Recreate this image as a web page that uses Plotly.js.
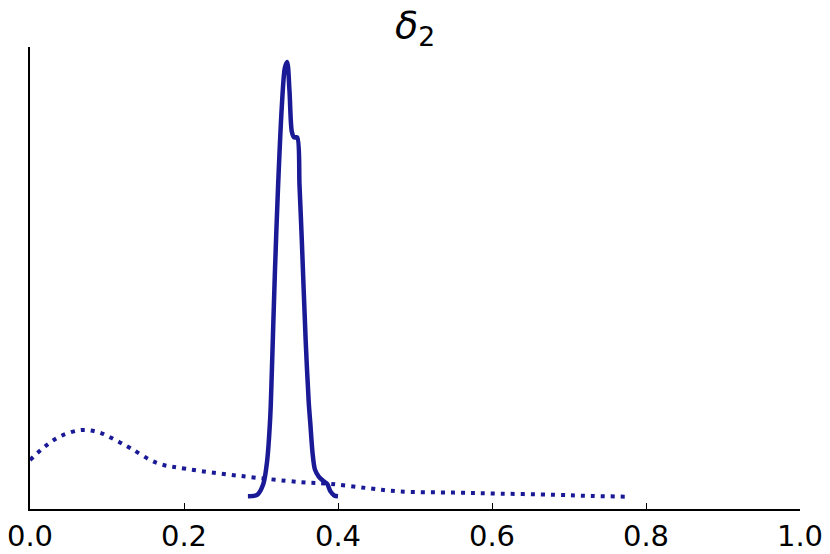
<!DOCTYPE html>
<html>
<head>
<meta charset="utf-8">
<script src="https://cdn.plot.ly/plotly-3.0.1.min.js"></script>
<style>body{margin:0;background:#fff}#chart{width:830px;height:554px}</style>
</head>
<body>
<div id="chart"></div>
<script>
// Solid density (posterior)
const solidX = [0.283, 0.295, 0.303, 0.308, 0.312, 0.314, 0.318, 0.322, 0.327, 0.331, 0.334, 0.337, 0.340, 0.343, 0.347, 0.350, 0.353, 0.358, 0.362, 0.364, 0.367, 0.370, 0.375, 0.381, 0.386, 0.390, 0.395, 0.400];
const solidY = [0.05, 0.15, 0.9, 2.5, 5.5, 8.5, 15.4, 21.2, 26.9, 29.6, 30.0, 28.0, 25.2, 24.8, 24.8, 21.5, 17.7, 10.8, 6.5, 5.1, 3.0, 1.9, 1.4, 1.1, 0.9, 0.4, 0.1, 0.05];
// Dotted density (prior)
const dotX = [0.0, 0.02, 0.04, 0.0675, 0.09, 0.11, 0.13, 0.165, 0.204, 0.273, 0.35, 0.39, 0.44, 0.48, 0.55, 0.61, 0.68, 0.73, 0.775];
const dotY = [2.55, 3.5, 4.2, 4.62, 4.45, 3.95, 3.38, 2.34, 1.93, 1.45, 1.03, 0.9, 0.6, 0.38, 0.3, 0.23, 0.15, 0.07, 0.02];
const xTicks = [0.0, 0.2, 0.4, 0.6, 0.8, 1.0];
const xTickLabels = ["0.0", "0.2", "0.4", "0.6", "0.8", "1.0"];

const color = "rgb(26,26,150)";
const traces = [
  {x: dotX, y: dotY, mode: "lines", line: {color: color, width: 4, dash: "4px,6px", shape: "spline"}, hoverinfo: "skip"},
  {x: solidX, y: solidY, mode: "lines", line: {color: color, width: 4.5, shape: "spline", smoothing: 0.8}, hoverinfo: "skip"}
];
const layout = {
  width: 830, height: 554,
  margin: {l: 30, r: 30, t: 47, b: 45},
  paper_bgcolor: "#fff", plot_bgcolor: "#fff",
  showlegend: false,
  font: {family: "DejaVu Sans", color: "#000"},
  title: {text: "<i>δ</i><sub>2</sub>", font: {size: 38, family: "DejaVu Sans", color: "#000"}, x: 0.5, xanchor: "center", y: 0.955, yref: "container", yanchor: "middle"},
  xaxis: {range: [0, 1], tickvals: xTicks, ticktext: xTickLabels, showgrid: false, zeroline: false,
          showline: true, linecolor: "#000", linewidth: 2, ticks: "inside", ticklen: 6, tickwidth: 1, tickcolor: "#000",
          ticklabelstandoff: 0,
          tickfont: {size: 29, family: "DejaVu Sans", color: "#000"}},
  yaxis: {range: [-0.83, 31.03], showgrid: false, zeroline: false, showticklabels: false, ticks: "",
          showline: true, linecolor: "#000", linewidth: 2}
};
Plotly.newPlot("chart", traces, layout, {staticPlot: true, displayModeBar: false});
</script>
</body>
</html>
